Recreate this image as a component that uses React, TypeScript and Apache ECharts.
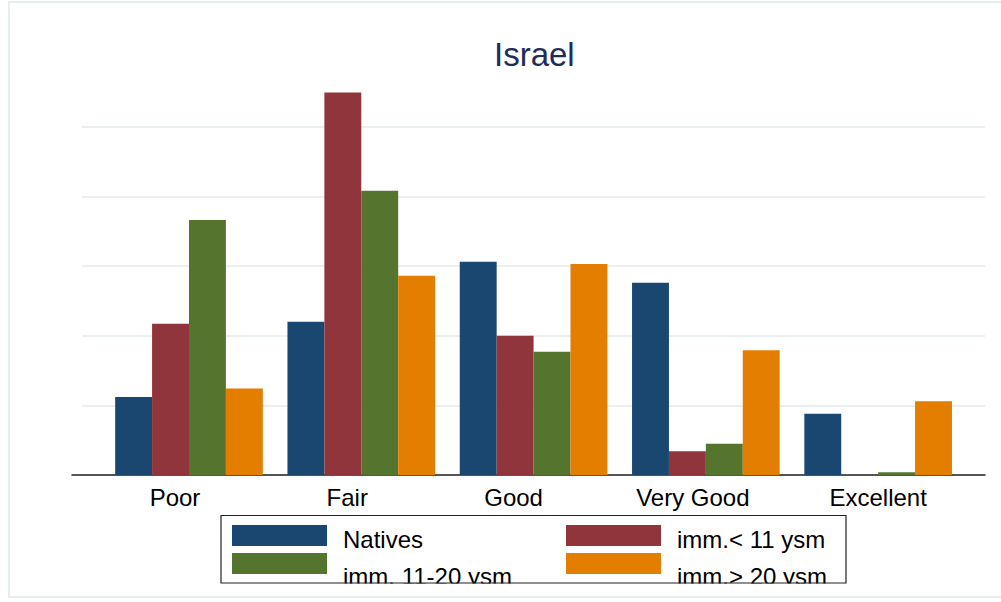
import React, { useEffect, useRef } from "react";
import * as echarts from "echarts";

const categories = ["Poor", "Fair", "Good", "Very Good", "Excellent"];
const seriesNames = ["Natives", "imm.< 11 ysm", "imm. 11-20 ysm", "imm.> 20 ysm"];
const natives = [11.2, 22.0, 30.6, 27.6, 8.8];
const immLt11 = [21.7, 54.9, 20.0, 3.4, 0];
const imm11to20 = [36.6, 40.8, 17.7, 4.5, 0.4];
const immGt20 = [12.4, 28.6, 30.3, 17.9, 10.6];
const colors = ["#1a476f", "#90353b", "#55752f", "#e37e00"];
// horizontal nudge of each category label (px, negative = left)
const labelShift = [-14, -14, -20, -13, 0];

export default function App() {
  const ref = useRef<HTMLDivElement>(null);
  useEffect(() => {
    document.body.style.margin = "0";
    const chart = echarts.init(ref.current!, null, { renderer: "svg" });
    const values = [natives, immLt11, imm11to20, immGt20];
    const rich: Record<string, any> = {};
    labelShift.forEach((s, i) => {
      rich["o" + i] = {
        fontSize: 24,
        color: "#000",
        padding: s < 0 ? [0, -2 * s, 0, 0] : [0, 0, 0, 2 * s],
      };
    });
    const legendCfg = (name: string, left: number, top: number, spacer: number) => ({
      data: [name],
      left,
      top,
      orient: "vertical",
      padding: 0,
      itemWidth: 95,
      itemHeight: 21,
      icon: "rect",
      itemStyle: { borderWidth: 0 },
      formatter: (n: string) => `{s| }\n{t|${n}}`,
      textStyle: {
        fontSize: 24,
        color: "#000",
        padding: [0, 0, 0, 11],
        rich: {
          s: { fontSize: 2, lineHeight: spacer },
          t: { fontSize: 24, lineHeight: 21, color: "#000" },
        },
      },
    });
    chart.setOption({
      animation: false,
      backgroundColor: "#ffffff",
      textStyle: { fontFamily: "Liberation Sans, Arial, sans-serif" },
      title: {
        text: "Israel",
        left: 494,
        top: 38,
        padding: 0,
        textStyle: { fontSize: 33, fontWeight: "normal", color: "#1e2d5c" },
      },
      graphic: [
        {
          type: "rect",
          shape: { x: 9, y: 2, width: 995, height: 595 },
          style: { fill: "none", stroke: "#e6edf0", lineWidth: 2 },
          silent: true,
          z: -10,
        },
        {
          type: "rect",
          shape: { x: 215, y: 583.6, width: 640, height: 12 },
          style: { fill: "#ffffff" },
          silent: true,
          z: 20,
        },
        {
          type: "rect",
          shape: { x: 221, y: 515.5, width: 625, height: 67.5 },
          style: { fill: "none", stroke: "#222", lineWidth: 1.2 },
          silent: true,
          z: 21,
        },
      ],
      grid: [
        { left: 82, right: 16, top: 126.7, bottom: 127 },
        { left: 72, right: 16, top: 126.7, bottom: 127 },
        { left: 102.85, right: 36.7, top: 57, bottom: 127 },
      ],
      xAxis: [
        { gridIndex: 0, type: "value", show: false },
        {
          gridIndex: 1,
          type: "value",
          position: "bottom",
          axisLine: { show: true, lineStyle: { color: "#222", width: 1.5 } },
          axisTick: { show: false },
          axisLabel: { show: false },
          splitLine: { show: false },
        },
        {
          gridIndex: 2,
          type: "category",
          data: categories,
          axisLine: { show: false },
          axisTick: { show: false },
          axisLabel: {
            interval: 0,
            hideOverlap: false,
            fontSize: 24,
            color: "#000",
            margin: 10,
            formatter: (v: string) => `{o${categories.indexOf(v)}|${v}}`,
            rich,
          },
        },
      ],
      yAxis: [
        {
          gridIndex: 0,
          type: "value",
          min: 0,
          max: 50,
          interval: 10,
          axisLine: { show: false },
          axisTick: { show: false },
          axisLabel: { show: false },
          splitLine: { show: true, lineStyle: { color: "#eaf0f2", width: 2 } },
        },
        { gridIndex: 1, type: "value", show: false, min: 0, max: 50 },
        { gridIndex: 2, type: "value", show: false, min: 0, max: 60 },
      ],
      legend: [
        legendCfg(seriesNames[0], 232, 524, 7),
        legendCfg(seriesNames[2], 232, 552, 25),
        legendCfg(seriesNames[1], 566, 524, 7),
        legendCfg(seriesNames[3], 566, 552, 25),
      ],
      series: seriesNames.map((name, i) => ({
        name,
        type: "bar",
        xAxisIndex: 2,
        yAxisIndex: 2,
        data: values[i],
        barGap: "0%",
        barCategoryGap: "14.3%",
        itemStyle: { color: colors[i] },
        z: 3,
      })),
    });
    return () => chart.dispose();
  }, []);
  return <div ref={ref} style={{ width: 1001, height: 602 }} />;
}
